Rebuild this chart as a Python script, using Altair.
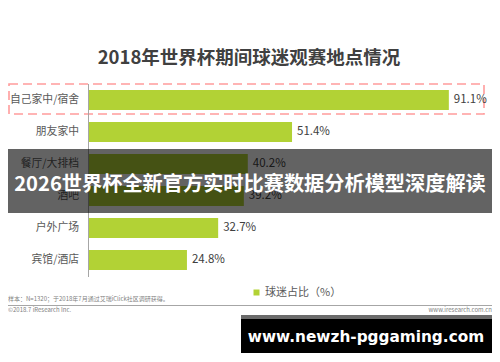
import altair as alt
import pandas as pd

# ---- data ----
categories = ["自己家中/宿舍", "朋友家中", "餐厅/大排档", "酒吧", "户外广场", "宾馆/酒店"]
values = [91.1, 51.4, 40.2, 39.2, 32.7, 24.8]
series_name = "球迷占比（%）"

title_text = "2018年世界杯期间球迷观赛地点情况"
note_text = "样本：N=1320；于2018年7月通过艾瑞iClick社区调研获得。"
copyright_text = "©2018.7 iResearch Inc."
site_text = "www.iresearch.com.cn"
banner_text = "2026世界杯全新官方实时比赛数据分析模型深度解读"
watermark_text = "www.newzh-pggaming.com"

FONT = "Noto Sans CJK SC"
BAR = "#b2d235"

df = pd.DataFrame({"cat": categories, "v": values, "series": series_name})
one = pd.DataFrame({"k": [0]})

xs = alt.Scale(domain=[0, 100], range=[81, 476])
ys = alt.Scale(domain=categories, range=[76, 268], paddingInner=0.375, paddingOuter=0.1875)

base = alt.Chart(df)

bars = base.mark_bar(size=20).encode(
    x=alt.X("v:Q", scale=xs, axis=None),
    y=alt.Y("cat:N", scale=ys, sort=categories, axis=None),
    color=alt.Color(
        "series:N",
        scale=alt.Scale(domain=[series_name], range=[BAR]),
        legend=alt.Legend(
            orient="none", legendX=243, legendY=279, title=None,
            symbolType="square", symbolSize=36, symbolStrokeWidth=0,
            labelOffset=3,
            labelFontSize=11, labelColor="#595959", labelFont=FONT,
        ),
    ),
)

cat_labels = base.mark_text(align="right", baseline="middle", font=FONT, fontSize=10.8,
                            color="#595959").encode(
    x=alt.value(71),
    y=alt.Y("cat:N", scale=ys, sort=categories, axis=None),
    text="cat:N",
)

val_labels = base.transform_calculate(
    lbl="format(datum.v, '.1f') + '%'"
).mark_text(align="left", baseline="middle", dx=5, font=FONT, fontSize=11.5,
            color="#404040").encode(
    x=alt.X("v:Q", scale=xs, axis=None),
    y=alt.Y("cat:N", scale=ys, sort=categories, axis=None),
    text="lbl:N",
)

deco = alt.Chart(one)

title = deco.mark_text(font=FONT, fontSize=18.5, fontWeight="bold", color="#404040",
                       baseline="middle", align="center").encode(
    x=alt.value(241), y=alt.value(50), text=alt.value(title_text))

box = deco.mark_rect(fillOpacity=0, stroke="#ff9c9c", strokeWidth=1.6,
                     strokeDash=[9, 5]).encode(
    x=alt.value(1), x2=alt.value(476), y=alt.value(76), y2=alt.value(106))

axis_line = deco.mark_rule(color="#a6a6a6", strokeWidth=1).encode(
    x=alt.value(80.5), y=alt.value(76), y2=alt.value(269))

foot_line = deco.mark_rule(color="#a6a6a6", strokeWidth=1).encode(
    x=alt.value(0), x2=alt.value(484), y=alt.value(297.5))

note = deco.mark_text(font=FONT, fontSize=6, color="#7f7f7f", align="left",
                      baseline="middle").encode(
    x=alt.value(0), y=alt.value(291), text=alt.value(note_text))
copy_t = deco.mark_text(font=FONT, fontSize=6, color="#7f7f7f", align="left",
                        baseline="middle").encode(
    x=alt.value(0), y=alt.value(302), text=alt.value(copyright_text))
site = deco.mark_text(font=FONT, fontSize=6, color="#7f7f7f", align="right",
                      baseline="middle").encode(
    x=alt.value(484), y=alt.value(302), text=alt.value(site_text))

banner = deco.mark_rect(color="black", opacity=0.61).encode(
    x=alt.value(0), x2=alt.value(484), y=alt.value(141), y2=alt.value(205))
banner_t = deco.mark_text(font=FONT, fontSize=20.2, fontWeight="bold", color="white",
                          align="center", baseline="middle").encode(
    x=alt.value(242), y=alt.value(177), text=alt.value(banner_text))

wm = deco.mark_rect(color="black").encode(
    x=alt.value(233), x2=alt.value(484), y=alt.value(307), y2=alt.value(345))
wm_strip = deco.mark_rect(color="#6b6b6b").encode(
    x=alt.value(233), x2=alt.value(484), y=alt.value(307), y2=alt.value(311))
wm_t = deco.mark_text(font="DejaVu Sans", fontSize=15.3, fontWeight="bold", color="white",
                      align="center", baseline="middle").encode(
    x=alt.value(358), y=alt.value(329), text=alt.value(watermark_text))

chart = alt.layer(
    title, box, bars, axis_line, cat_labels, val_labels,
    foot_line, note, copy_t, site,
    banner, banner_t, wm, wm_strip, wm_t,
).properties(
    width=484, height=346, padding=0,
    autosize=alt.AutoSizeParams(type="none"),
).configure_view(stroke=None)

chart.save("out.html", embed_options={"renderer": "svg", "actions": False})
